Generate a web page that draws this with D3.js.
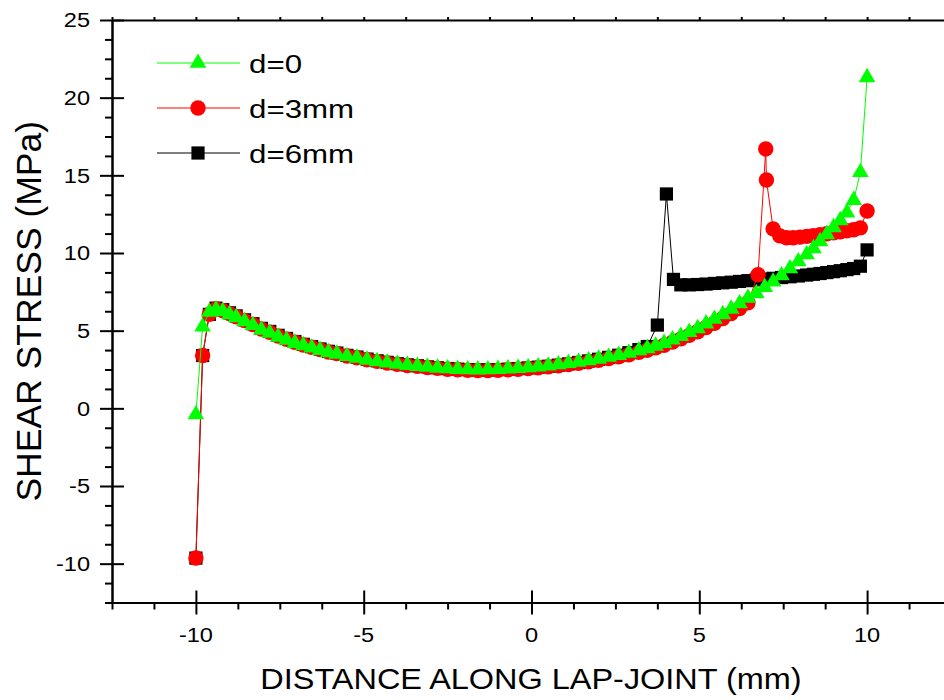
<html>
<head>
<meta charset="utf-8">
<script src="https://d3js.org/d3.v7.min.js"></script>
<style>
  body { margin: 0; background: #ffffff; }
  svg { display: block; }
  text { font-family: "Liberation Sans", Arial, sans-serif; fill: #000; }
</style>
</head>
<body>
<div id="chart"></div>
<script>
// d=0 (green triangles)
const xD0 = [-10, -9.8, -9.6, -9.4, -9.2, -9.0, -8.8, -8.55, -8.3, -8.05, -7.8, -7.55, -7.3, -7.05, -6.8, -6.55,
  -6.3, -6.05, -5.8, -5.5, -5.2, -4.9, -4.6, -4.3, -4.0, -3.7, -3.4, -3.1, -2.8, -2.5, -2.2, -1.9, -1.6, -1.3,
  -1.0, -0.7, -0.4, -0.1, 0.2, 0.5, 0.8, 1.1, 1.4, 1.7, 2.0, 2.3, 2.6, 2.9, 3.2, 3.45, 3.7, 3.95, 4.2, 4.45,
  4.7, 4.95, 5.2, 5.45, 5.7, 5.95, 6.2, 6.45, 6.7, 6.95, 7.2, 7.45, 7.7, 7.95, 8.2, 8.4, 8.6, 8.8, 9.0, 9.2,
  9.4, 9.6, 9.8, 10.0]
const yD0 = [-0.4, 5.25, 6.2, 6.35, 6.25, 6.05, 5.85, 5.6, 5.35, 5.05, 4.85, 4.6, 4.4, 4.2, 4.05, 3.9,
  3.75, 3.6, 3.5, 3.35, 3.25, 3.12, 3.02, 2.93, 2.85, 2.78, 2.72, 2.66, 2.6, 2.56, 2.52, 2.5, 2.49, 2.5,
  2.52, 2.55, 2.59, 2.63, 2.68, 2.74, 2.82, 2.9, 2.98, 3.08, 3.18, 3.3, 3.42, 3.56, 3.72, 3.86, 4.02, 4.2, 4.42, 4.65,
  4.9, 5.15, 5.45, 5.75, 6.05, 6.4, 6.75, 7.1, 7.4, 7.8, 8.15, 8.55, 9.0, 9.45, 9.9, 10.3, 10.75, 11.2, 11.65, 12.1,
  12.6, 13.4, 15.2, 21.3]

// d=3mm (red circles)
const xD3 = [-10, -9.8, -9.6, -9.4, -9.2, -9.0, -8.8, -8.55, -8.3, -8.05, -7.8, -7.55, -7.3, -7.05, -6.8, -6.55,
  -6.3, -6.05, -5.8, -5.5, -5.2, -4.9, -4.6, -4.3, -4.0, -3.7, -3.4, -3.1, -2.8, -2.5, -2.2, -1.9, -1.6, -1.3,
  -1.0, -0.7, -0.4, -0.1, 0.2, 0.5, 0.8, 1.1, 1.4, 1.7, 2.0, 2.3, 2.6, 2.9, 3.2, 3.45, 3.7, 3.95, 4.2, 4.45,
  4.7, 4.95, 5.2, 5.45, 5.7, 5.95, 6.2, 6.45, 6.75, 6.98, 7.0, 7.2, 7.4, 7.6, 7.8, 8.0, 8.2, 8.4, 8.6, 8.8,
  9.0, 9.2, 9.4, 9.6, 9.8, 10.0]
const yD3 = [-9.64, 3.4, 6.05, 6.4, 6.3, 6.1, 5.9, 5.65, 5.4, 5.1, 4.9, 4.65, 4.45, 4.25, 4.08, 3.93,
  3.78, 3.63, 3.52, 3.37, 3.26, 3.13, 3.02, 2.92, 2.84, 2.76, 2.7, 2.63, 2.57, 2.52, 2.48, 2.45, 2.43, 2.43,
  2.45, 2.48, 2.52, 2.56, 2.61, 2.67, 2.74, 2.82, 2.9, 2.99, 3.09, 3.2, 3.32, 3.45, 3.6, 3.74, 3.89, 4.06, 4.26, 4.47,
  4.7, 4.93, 5.2, 5.48, 5.78, 6.1, 6.42, 6.8, 8.6, 16.7, 14.7, 11.55, 11.1, 10.98, 10.98, 11.02, 11.07, 11.12, 11.18, 11.24,
  11.3, 11.36, 11.43, 11.5, 11.62, 12.7]

// d=6mm (black squares)
const xD6 = [-10, -9.8, -9.6, -9.4, -9.2, -9.0, -8.8, -8.55, -8.3, -8.05, -7.8, -7.55, -7.3, -7.05, -6.8, -6.55,
  -6.3, -6.05, -5.8, -5.5, -5.2, -4.9, -4.6, -4.3, -4.0, -3.7, -3.4, -3.1, -2.8, -2.5, -2.2, -1.9, -1.6, -1.3,
  -1.0, -0.7, -0.4, -0.1, 0.2, 0.5, 0.8, 1.1, 1.4, 1.7, 2.0, 2.3, 2.6, 2.9, 3.2, 3.45, 3.75, 4.02, 4.23, 4.45,
  4.7, 4.95, 5.2, 5.45, 5.7, 5.95, 6.2, 6.45, 6.7, 6.95, 7.2, 7.45, 7.7, 7.95, 8.2, 8.4, 8.6, 8.8, 9.0, 9.2,
  9.4, 9.6, 9.8, 10.0]
const yD6 = [-9.64, 3.4, 6.05, 6.45, 6.35, 6.15, 5.95, 5.7, 5.45, 5.15, 4.95, 4.7, 4.5, 4.3, 4.12, 3.97,
  3.82, 3.67, 3.56, 3.41, 3.3, 3.17, 3.06, 2.96, 2.88, 2.8, 2.74, 2.67, 2.61, 2.56, 2.52, 2.49, 2.47, 2.47,
  2.49, 2.52, 2.56, 2.6, 2.65, 2.71, 2.78, 2.86, 2.95, 3.05, 3.16, 3.28, 3.42, 3.58, 3.78, 3.98, 5.36, 13.8, 8.3, 7.95,
  7.95, 7.97, 8.0, 8.04, 8.08, 8.12, 8.17, 8.22, 8.27, 8.32, 8.37, 8.42, 8.47, 8.52, 8.58, 8.63, 8.68, 8.74, 8.8, 8.86,
  8.93, 9.0, 9.15, 10.2]

const seriesNames = ["d=0", "d=3mm", "d=6mm"]
const xMajorTicks = [-10, -5, 0, 5, 10]
const yMajorTicks = [-10, -5, 0, 5, 10, 15, 20, 25]
const xLabel = "DISTANCE ALONG LAP-JOINT (mm)"
const yLabel = "SHEAR STRESS (MPa)"

const width = 944
const height = 700

const x = d3.scaleLinear().domain([-12.5, 12.5]).range([112, 951])
const y = d3.scaleLinear().domain([-12.5, 25]).range([602.5, 20])

const svg = d3.select("#chart").append("svg")
  .attr("width", width)
  .attr("height", height)
  .style("background", "#fff")

// marker shapes
function triangle(g) {
  g.append("path").attr("d", "M0,-9.6L8.3,4.8L-8.3,4.8Z").attr("fill", "#00ff00")
}
function circle(g) {
  g.append("circle").attr("r", 7.7).attr("fill", "#ff0000")
}
function square(g) {
  g.append("rect").attr("x", -6.6).attr("y", -6.6).attr("width", 13.2).attr("height", 13.2).attr("fill", "#000")
}

const series = [
  { name: seriesNames[2], xs: xD6, ys: yD6, color: "#000000", marker: square },
  { name: seriesNames[1], xs: xD3, ys: yD3, color: "#ff0000", marker: circle },
  { name: seriesNames[0], xs: xD0, ys: yD0, color: "#00ff00", marker: triangle }
]

const line = d3.line().x(d => x(d[0])).y(d => y(d[1]))

series.forEach(s => {
  const pts = s.xs.map((v, i) => [v, s.ys[i]])
  const g = svg.append("g")
  g.append("path")
    .attr("d", line(pts))
    .attr("fill", "none")
    .attr("stroke", s.color)
    .attr("stroke-width", 1)
  g.selectAll("g.pt")
    .data(pts)
    .join("g")
    .attr("class", "pt")
    .attr("transform", d => `translate(${x(d[0])},${y(d[1])})`)
    .each(function () { s.marker(d3.select(this)) })
})

// axes
const minorX = d3.range(-12.5, 12.6, 1.25).filter(v => xMajorTicks.indexOf(v) < 0)
const minorY = d3.range(-12.5, 25.1, 1.25).filter(v => yMajorTicks.indexOf(v) < 0)

function styleAxis(g) {
  g.selectAll("path.domain").attr("stroke", "#000").attr("stroke-width", 2)
  g.selectAll(".tick line").attr("stroke", "#000").attr("stroke-width", 2)
  g.selectAll(".tick text").remove()
}

svg.append("g")
  .attr("transform", `translate(0,${y(-12.5)})`)
  .call(d3.axisBottom(x).tickValues(minorX).tickSize(7).tickSizeOuter(0).tickFormat(""))
  .call(styleAxis)
svg.append("g")
  .attr("transform", `translate(0,${y(-12.5)})`)
  .call(d3.axisBottom(x).tickValues(xMajorTicks).tickSize(12).tickSizeOuter(0).tickFormat(""))
  .call(styleAxis)
  .call(g => g.selectAll(".tick line").attr("y1", -12))

svg.append("g")
  .attr("transform", `translate(0,${y(25)})`)
  .call(d3.axisTop(x).tickValues(d3.range(-12.5, 12.6, 1.25)).tickSize(3).tickSizeOuter(0).tickFormat(""))
  .call(styleAxis)

svg.append("g")
  .attr("transform", `translate(${x(-12.5)},0)`)
  .call(d3.axisLeft(y).tickValues(minorY).tickSize(7).tickSizeOuter(0).tickFormat(""))
  .call(styleAxis)
svg.append("g")
  .attr("transform", `translate(${x(-12.5)},0)`)
  .call(d3.axisLeft(y).tickValues(yMajorTicks).tickSize(12).tickSizeOuter(0).tickFormat(""))
  .call(styleAxis)
  .call(g => g.selectAll(".tick line").attr("x1", 12))

// labels
function addText(px, py, str, size, anchor, sx) {
  svg.append("text")
    .attr("transform", `translate(${px},${py}) scale(${sx},1)`)
    .attr("text-anchor", anchor)
    .style("font-size", size + "px")
    .text(str)
}

xMajorTicks.forEach(v => addText(x(v), 642, v, 20.5, "middle", 1.15))
yMajorTicks.forEach(v => addText(90, y(v) + 7.4, v, 20.5, "end", 1.15))
addText(531, 689, xLabel, 29.5, "middle", 1.1)

svg.append("text")
  .attr("transform", `translate(41,${(y(-12.5) + y(25)) / 2}) rotate(-90)`)
  .attr("text-anchor", "middle")
  .style("font-size", "35.5px")
  .text(yLabel)

// legend
const legendRows = [
  { name: seriesNames[0], color: "#00ff00", marker: triangle },
  { name: seriesNames[1], color: "#ff0000", marker: circle },
  { name: seriesNames[2], color: "#000000", marker: square }
]
legendRows.forEach((r, i) => {
  const ly = 63 + i * 45
  svg.append("line")
    .attr("x1", 157).attr("x2", 240).attr("y1", ly).attr("y2", ly)
    .attr("stroke", r.color).attr("stroke-width", 1)
  r.marker(svg.append("g").attr("transform", `translate(198,${ly})`))
  addText(249, ly + 10, r.name, 26.5, "start", 1.18)
})
</script>
</body>
</html>
